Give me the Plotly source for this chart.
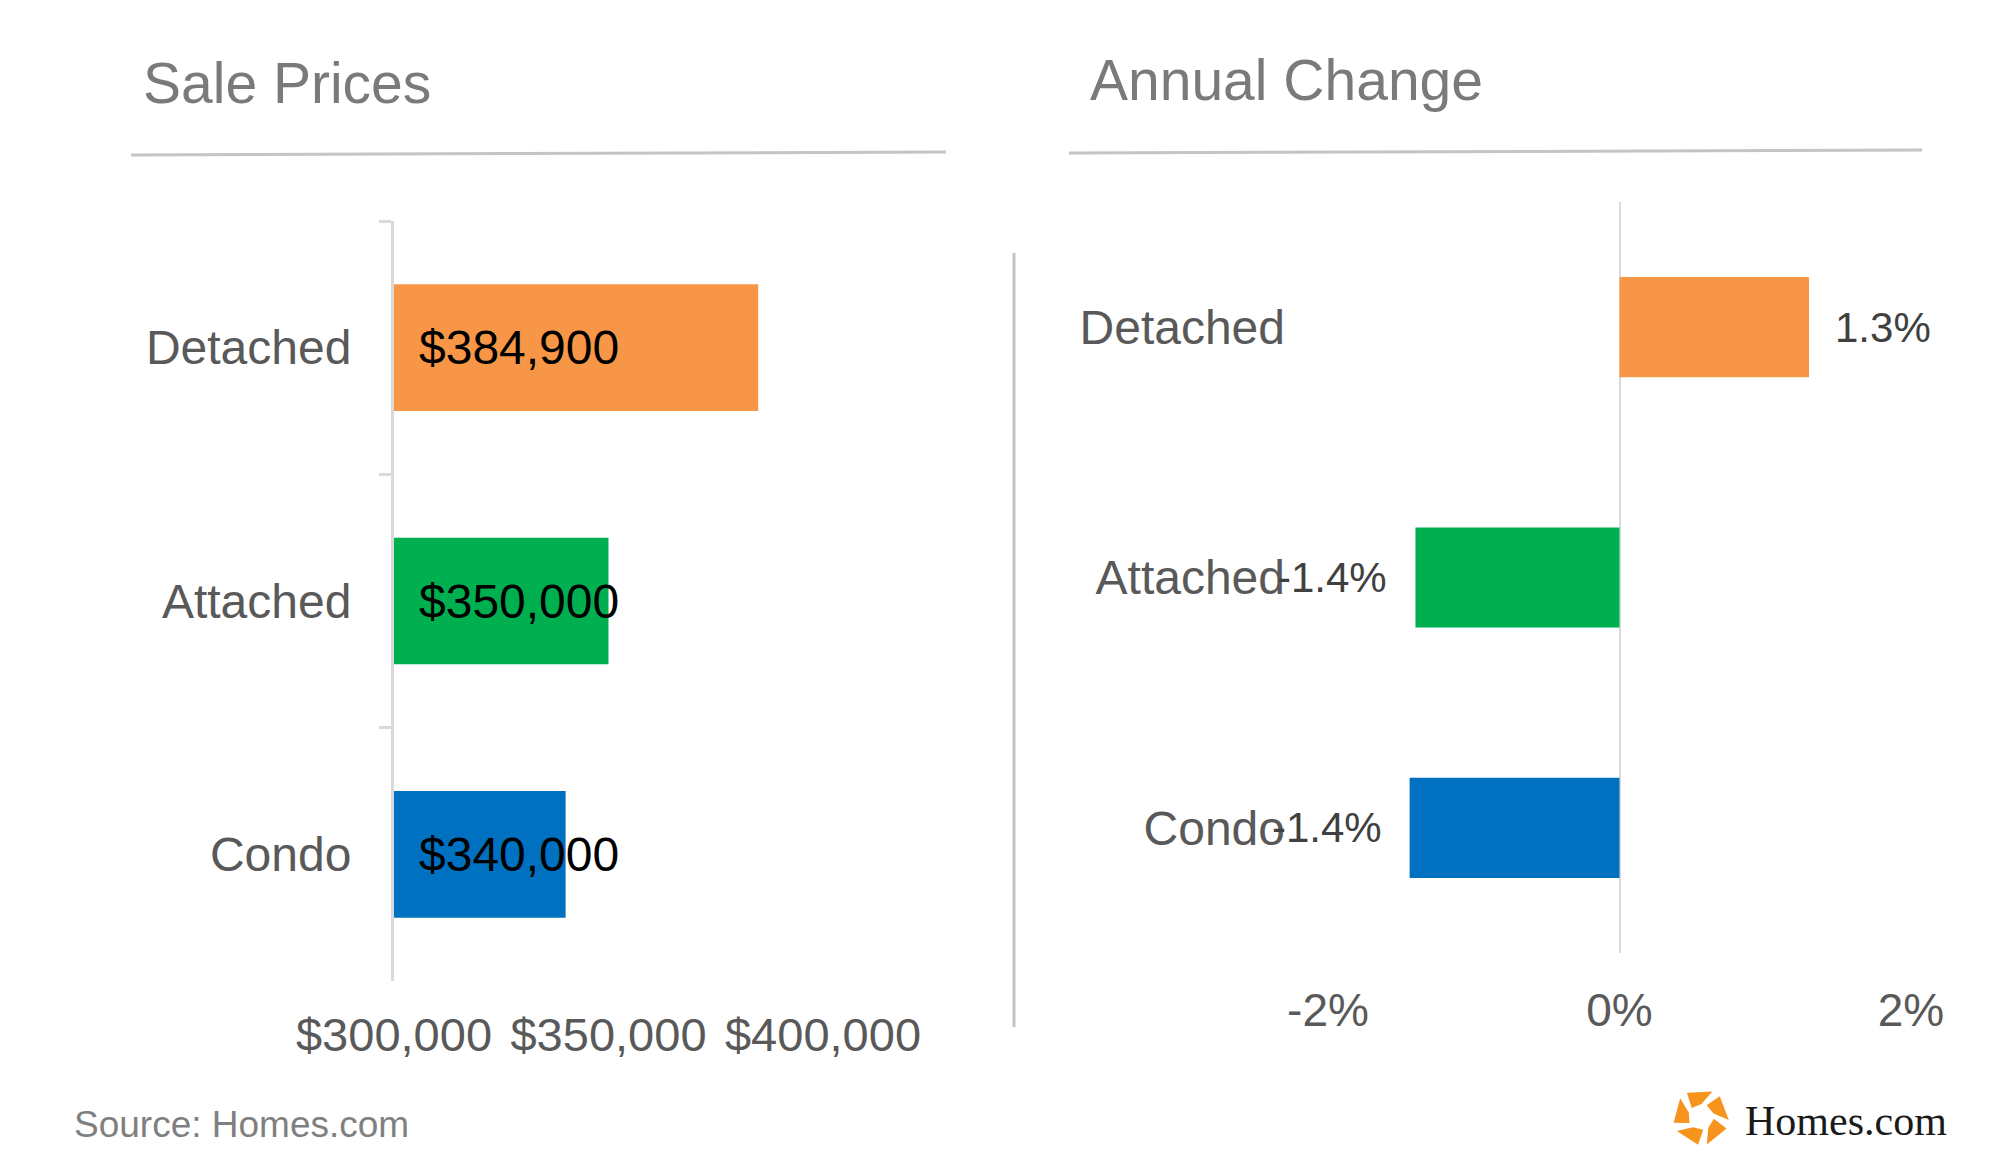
import math
import plotly.graph_objects as go

# ---------------- data ----------------
categories = ["Detached", "Attached", "Condo"]
sale_prices = [384900, 350000, 340000]
price_labels = ["$384,900", "$350,000", "$340,000"]
annual_change = [1.3, -1.4, -1.44]
change_labels = ["1.3%", "-1.4%", "-1.4%"]
bar_colors = ["#F79646", "#00B050", "#0070C0"]
price_ticks = [300000, 350000, 400000]
price_tick_labels = ["$300,000", "$350,000", "$400,000"]
change_ticks = [-2, 0, 2]
change_tick_labels = ["-2%", "0%", "2%"]

W, H = 2000, 1172
FONT = "Liberation Sans, Arial, sans-serif"


def px(x):
    return x / W


def py(y):
    return 1 - y / H


fig = go.Figure()
fig.add_trace(go.Bar(
    x=sale_prices, y=categories, orientation="h",
    marker=dict(color=bar_colors, line=dict(width=0)),
    width=0.5, xaxis="x", yaxis="y", hoverinfo="skip", showlegend=False,
))
fig.add_trace(go.Bar(
    x=annual_change, y=categories, orientation="h",
    marker=dict(color=bar_colors, line=dict(width=0)),
    width=0.4, xaxis="x2", yaxis="y2", hoverinfo="skip", showlegend=False,
))

annotations = []
# titles
annotations.append(dict(text="Sale Prices", x=px(141), y=py(83), xref="paper", yref="paper",
                        xanchor="left", yanchor="middle", showarrow=False,
                        font=dict(family=FONT, size=57, color="#7a7a7a")))
annotations.append(dict(text="Annual Change", x=px(1088), y=py(80), xref="paper", yref="paper",
                        xanchor="left", yanchor="middle", showarrow=False,
                        font=dict(family=FONT, size=57, color="#7a7a7a")))
# source
annotations.append(dict(text="Source: Homes.com", x=px(72), y=py(1124), xref="paper", yref="paper",
                        xanchor="left", yanchor="middle", showarrow=False,
                        font=dict(family=FONT, size=37, color="#7f7f7f")))
# logo text
annotations.append(dict(text="Homes.com", x=px(1743), y=py(1121), xref="paper", yref="paper",
                        xanchor="left", yanchor="middle", showarrow=False,
                        font=dict(family="Liberation Serif, Times New Roman, serif", size=42, color="#1a1a1a")))
# left data labels
for cat, lab in zip(categories, price_labels):
    annotations.append(dict(text=lab, x=price_ticks[0], y=cat, xref="x", yref="y",
                            xanchor="left", yanchor="middle", xshift=23, showarrow=False,
                            font=dict(family=FONT, size=48, color="#000000")))
# right data labels
for cat, val, lab in zip(categories, annual_change, change_labels):
    annotations.append(dict(text=lab, x=val, y=cat, xref="x2", yref="y2",
                            xanchor="left" if val > 0 else "right",
                            yanchor="middle", xshift=24 if val > 0 else -26, showarrow=False,
                            font=dict(family=FONT, size=42, color="#404040")))

shapes = []
# title underlines
shapes.append(dict(type="line", xref="paper", yref="paper", x0=px(131), y0=py(155), x1=px(946), y1=py(152),
                   line=dict(color="#c4c4c4", width=3)))
shapes.append(dict(type="line", xref="paper", yref="paper", x0=px(1069), y0=py(153), x1=px(1922), y1=py(150),
                   line=dict(color="#c4c4c4", width=3)))
# separator
shapes.append(dict(type="line", xref="paper", yref="paper", x0=px(1014), y0=py(253), x1=px(1014), y1=py(1027),
                   line=dict(color="#c4c4c4", width=3)))

# logo icon (pinwheel pentagon)
cx, cy, R, r = 1701, 1117, 28, 13
for k in range(5):
    a = 90 + 72 * k
    pts = [(R, a - 24), (R, a + 30), (r, a + 46), (r, a - 2)]
    coords = []
    for rad, ang in pts:
        t = math.radians(ang)
        X = cx + rad * math.cos(t)
        Y = cy - rad * math.sin(t)
        coords.append((px(X), py(Y)))
    path = "M " + " L ".join(f"{x:.5f},{y:.5f}" for x, y in coords) + " Z"
    shapes.append(dict(type="path", xref="paper", yref="paper", path=path,
                       fillcolor="#F7941D", line=dict(width=0)))

fig.update_layout(
    template="none",
    width=W, height=H, autosize=False,
    margin=dict(l=0, r=0, t=0, b=0, pad=0),
    paper_bgcolor="white", plot_bgcolor="white",
    font=dict(family=FONT),
    showlegend=False,
    xaxis=dict(domain=[px(394), px(823)], range=[300000, 400000], anchor="y",
               tickvals=price_ticks, ticktext=price_tick_labels, tickangle=0,
               showgrid=False, zeroline=False, showline=False, ticks="",
               tickfont=dict(family=FONT, size=47, color="#595959"),
               ticklabelstandoff=22, automargin=False, fixedrange=True),
    yaxis=dict(domain=[py(981), py(221)], anchor="x", autorange="reversed",
               type="category", showgrid=False, zeroline=False,
               showline=True, linecolor="#d9d9d9", linewidth=3,
               ticks="outside", ticklen=12, tickwidth=3, tickcolor="#d9d9d9",
               tickson="boundaries",
               tickfont=dict(family=FONT, size=48, color="#595959"),
               ticklabelstandoff=30, automargin=False, fixedrange=True),
    xaxis2=dict(domain=[px(1328), px(1911)], range=[-2, 2], anchor="y2",
                tickvals=change_ticks, ticktext=change_tick_labels, tickangle=0,
                showgrid=False, zeroline=True, zerolinecolor="#d9d9d9", zerolinewidth=2,
                showline=False, ticks="",
                tickfont=dict(family=FONT, size=46, color="#595959"),
                ticklabelstandoff=26, automargin=False, fixedrange=True),
    yaxis2=dict(domain=[py(953), py(202)], anchor="x2", autorange="reversed",
                type="category", showgrid=False, zeroline=False, showline=False, ticks="",
                tickfont=dict(family=FONT, size=48, color="#595959"),
                ticklabelstandoff=42, automargin=False, fixedrange=True),
    annotations=annotations,
    shapes=shapes,
)

fig.write_html("out.html", config={"displayModeBar": False},
               post_script="document.body.style.margin='0';document.body.style.overflow='hidden';")
